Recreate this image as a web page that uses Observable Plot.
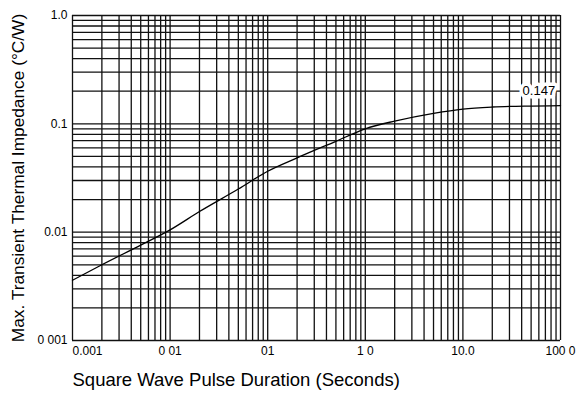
<!DOCTYPE html>
<html>
<head>
<meta charset="utf-8">
<script src="https://cdn.jsdelivr.net/npm/d3@7"></script>
<script src="https://cdn.jsdelivr.net/npm/@observablehq/plot@0.6"></script>
<style>
  html, body { margin: 0; padding: 0; background: #fff; }
  svg { font-family: "Liberation Sans", Arial, Helvetica, sans-serif; }
</style>
</head>
<body>
<div id="chart"></div>
<script>
// Curve: square wave pulse duration (s) vs max transient thermal impedance (°C/W)
const pulseDuration = [0.001, 0.002, 0.005, 0.01, 0.02, 0.05, 0.1, 0.2, 0.5, 1, 2, 5, 10, 20, 50, 100];
const impedance     = [0.0036, 0.0050, 0.0076, 0.0105, 0.0155, 0.0250, 0.0365, 0.0485, 0.0690, 0.090, 0.106, 0.125, 0.137, 0.143, 0.146, 0.147];

// Axis ticks and labels (as printed)
const xTickValues = [0.001, 0.01, 0.1, 1, 10, 100];
const xTickLabels = ["0.001", "0 01", "01", "1 0", "10.0", "100 0"];
const yTickValues = [0.001, 0.01, 0.1, 1];
const yTickLabels = ["0 001", "0.01", "0.1", "1.0"];

// Log-paper grid lines (1..9 per decade)
const xGrid = [];
for (let e = -3; e < 2; e++) for (let m = 1; m < 10; m++) xGrid.push(m * 10 ** e);
xGrid.push(100);
const yGrid = [];
for (let e = -3; e < 0; e++) for (let m = 1; m < 10; m++) yGrid.push(m * 10 ** e);
yGrid.push(1);

const endLabel = "0.147";
const xTitle = "Square Wave Pulse Duration (Seconds)";
const yTitle = "Max. Transient Thermal Impedance (°C/W)";

const data = pulseDuration.map((x, i) => ({x, y: impedance[i]}));
const font = "Liberation Sans, Arial, Helvetica, sans-serif";

const chart = Plot.plot({
  width: 587,
  height: 395,
  marginLeft: 72,
  marginRight: 27,
  marginTop: 15,
  marginBottom: 55,
  style: {fontFamily: font, fontSize: "12px", color: "#000", background: "#fff"},
  x: {type: "log", domain: [0.001, 100], axis: null},
  y: {type: "log", domain: [0.001, 1], axis: null},
  marks: [
    Plot.ruleX(xGrid, {x: d => d, stroke: "#111", strokeWidth: 1.3}),
    Plot.ruleY(yGrid, {y: d => d, stroke: "#111", strokeWidth: 1.3}),
    Plot.line(data, {x: "x", y: "y", curve: "monotone-x", stroke: "#000", strokeWidth: 1.3}),
    Plot.text([data[data.length - 1]], {
      x: 60, y: "y", dy: -15, text: () => endLabel,
      fill: "#000", stroke: "#fff", strokeWidth: 7, fontSize: 13
    }),
    // y tick labels
    Plot.text(yTickValues, {
      y: d => d, frameAnchor: "left", dx: -5, textAnchor: "end",
      text: (d, i) => yTickLabels[i], fontSize: 12, fill: "#000"
    }),
    // x tick labels
    Plot.text(xTickValues.slice(0, 1), {
      x: d => d, frameAnchor: "bottom", dy: 14, textAnchor: "start",
      text: (d, i) => xTickLabels[i], fontSize: 12, fill: "#000"
    }),
    Plot.text(xTickValues.slice(1), {
      x: d => d, frameAnchor: "bottom", dy: 14, textAnchor: "middle",
      text: (d, i) => xTickLabels[i + 1], fontSize: 12, fill: "#000"
    }),
    // axis titles
    Plot.text([xTitle], {
      frameAnchor: "bottom-left", dy: 45, textAnchor: "start",
      text: d => d, fontSize: 18.5, fill: "#000"
    }),
    Plot.text([yTitle], {
      frameAnchor: "left", dx: -54, dy: 0, rotate: -90, textAnchor: "middle",
      text: d => d, fontSize: 17.3, fill: "#000"
    })
  ]
});
document.getElementById("chart").appendChild(chart);
</script>
</body>
</html>
